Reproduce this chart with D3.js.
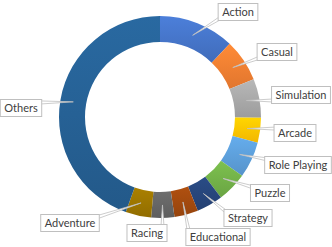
<!DOCTYPE html>
<html lang="en">
<head>
    <meta charset="UTF-8">
    <title>Game genres donut</title>
    <script src="https://d3js.org/d3.v7.min.js"></script>
    <style>
        body, html {
            margin: 0;
            padding: 0;
            overflow: hidden;
            background: #fff;
        }
        svg {
            display: block;
        }
        .label {
            font-family: Lato, "Open Sans", sans-serif;
            font-size: 11px;
            fill: #404040;
        }
    </style>
</head>
<body>
    <svg width="332" height="247" id="chart"></svg>

    <script>
        // data (share in %)
        const genres = ["Action", "Casual", "Simulation", "Arcade", "Role Playing", "Puzzle",
                        "Strategy", "Educational", "Racing", "Adventure", "Others"];
        const shares = [12.1, 6.8, 6.2, 4.0, 5.8, 4.8, 4.2, 3.8, 3.7, 4.1, 44.5];
        const colors = ["#4472c4", "#ed7d31", "#a5a5a5", "#ffc000", "#5b9bd5", "#70ad47",
                        "#264478", "#9e480e", "#636363", "#997300", "#255e91"];

        // label box centres, relative to the donut centre (layout only)
        const labelPos = [[78, -105], [117, -65], [141, -22], [135, 16], [138, 48], [110, 76],
                          [88, 101], [58, 120], [-13, 116], [-90, 106], [-139, -9]];

        const svg = d3.select("#chart");
        const cx = 160, cy = 117;
        const outerR = 101, innerR = 75;

        const defs = svg.append("defs");
        colors.forEach((c, i) => {
            const g = defs.append("linearGradient")
                .attr("id", "grad" + i)
                .attr("x1", 0).attr("y1", 0).attr("x2", 0).attr("y2", 1);
            g.append("stop").attr("offset", "0%").attr("stop-color", d3.color(c).brighter(0.3));
            g.append("stop").attr("offset", "100%").attr("stop-color", d3.color(c).darker(0.15));
        });

        const pie = d3.pie().sort(null).value(d => d);
        const arcs = pie(shares);
        const arc = d3.arc().innerRadius(innerR).outerRadius(outerR);

        const g = svg.append("g").attr("transform", `translate(${cx},${cy})`);

        g.selectAll("path.slice")
            .data(arcs)
            .enter()
            .append("path")
            .attr("class", "slice")
            .attr("d", arc)
            .attr("fill", (d, i) => `url(#grad${i})`);

        // labels: measure text first so the boxes fit
        const labels = g.selectAll("g.lab")
            .data(arcs)
            .enter()
            .append("g")
            .attr("class", "lab");

        const pointers = labels.append("path");
        const boxes = labels.append("rect");
        const texts = labels.append("text")
            .attr("class", "label")
            .attr("text-anchor", "middle")
            .attr("dy", "0.35em")
            .attr("x", (d, i) => labelPos[i][0])
            .attr("y", (d, i) => labelPos[i][1])
            .text((d, i) => genres[i]);

        const boxH = 17;
        const boxInfo = [];
        texts.each(function(d, i) {
            const w = this.getComputedTextLength() + 8;
            const x0 = labelPos[i][0] - w / 2, y0 = labelPos[i][1] - boxH / 2;
            boxInfo[i] = { x0, y0, x1: x0 + w, y1: y0 + boxH, w };
        });

        boxes
            .attr("x", (d, i) => boxInfo[i].x0)
            .attr("y", (d, i) => boxInfo[i].y0)
            .attr("width", (d, i) => boxInfo[i].w)
            .attr("height", boxH)
            .attr("fill", "#fff")
            .attr("stroke", "#bfbfbf")
            .attr("stroke-width", 1);

        pointers
            .attr("d", (d, i) => {
                const [ax, ay] = arc.centroid(d);
                const b = boxInfo[i];
                const bx = Math.max(b.x0 + 3, Math.min(b.x1 - 3, ax));
                const by = Math.max(b.y0 + 3, Math.min(b.y1 - 3, ay));
                const dx = bx - ax, dy = by - ay;
                const len = Math.hypot(dx, dy);
                const nx = -dy / len * 1.6, ny = dx / len * 1.6;
                return `M${ax},${ay}L${bx + nx},${by + ny}L${bx - nx},${by - ny}Z`;
            })
            .attr("fill", "#fff")
            .attr("stroke", "#bfbfbf")
            .attr("stroke-width", 0.8);
    </script>
</body>
</html>
